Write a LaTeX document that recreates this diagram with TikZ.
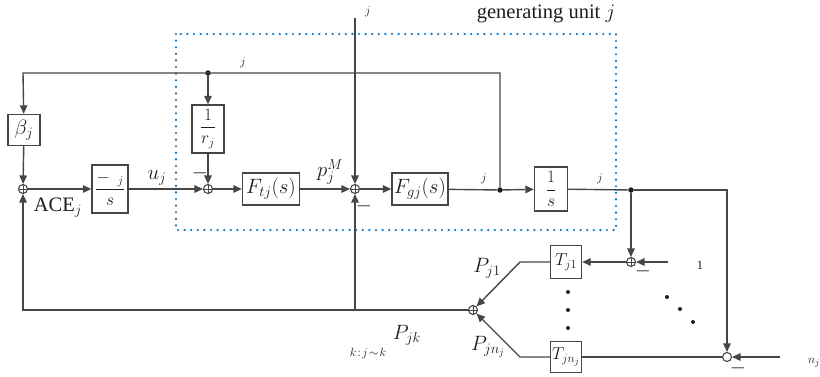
\documentclass[tikz,border=0pt]{standalone}
\usepackage{fontspec}
\setmainfont{Liberation Serif}
\usepackage{amsmath}
\usetikzlibrary{arrows.meta}
\definecolor{ln}{RGB}{70,70,70}
\definecolor{tx}{RGB}{30,28,28}
\definecolor{bl}{RGB}{0,114,198}
\tikzset{
  wire/.style={draw=ln,line width=1.4pt},
  arr/.style={wire,-{Triangle[length=8.5pt,width=7.5pt]}},
  blk/.style={draw=ln,line width=1.4pt,rectangle,inner sep=0pt,text=tx},
  fracf/.style={font=\fontsize{18.5}{20}\selectfont},
  tf/.style={font=\fontsize{18.5}{22}\selectfont},
  sumc/.style={circle,draw=ln,line width=1.1pt,minimum size=9pt,inner sep=0pt,
    path picture={\draw[ln,line width=1pt] (path picture bounding box.north) -- (path picture bounding box.south)
      (path picture bounding box.west) -- (path picture bounding box.east);}},
  sumo/.style={circle,draw=ln,line width=1.1pt,minimum size=9pt,inner sep=0pt},
  dotm/.style={circle,fill=tx,inner sep=0pt,minimum size=5.5pt},
  smalldot/.style={circle,fill=tx,inner sep=0pt,minimum size=4pt},
  lab/.style={text=tx,inner sep=0pt},
  sl/.style={lab,font=\fontsize{12.5}{14}\selectfont},
}
\begin{document}
\begin{tikzpicture}[x=1pt,y=-1pt,font=\fontsize{20.5}{24}\selectfont]
\useasboundingbox (0,0) rectangle (820,376);
% dotted region
\draw[bl,line width=2.4pt,line cap=round,dash pattern=on 0pt off 6.6pt] (176,34) rectangle (616,230);
% blocks
\node[blk,minimum width=32pt,minimum height=31pt] (beta) at (24,130) {$\beta_j$};
\node[sumc] (s1) at (23,189) {};
\node[blk,fracf,minimum width=36pt,minimum height=48pt] (kbox) at (110,189) {$\dfrac{-\;\,{}_{j}}{s}$};
\node[sumc] (s2) at (208,189) {};
\node[blk,fracf,minimum width=32pt,minimum height=48pt] (rbox) at (208,129) {$\dfrac{1}{r_j}$};
\node[blk,minimum width=57pt,minimum height=32pt] (Ftj) at (271,189) {$F_{tj}(s)$};
\node[sumc] (s3) at (355,189) {};
\node[blk,minimum width=56pt,minimum height=32pt] (Fgj) at (420,189) {$F_{gj}(s)$};
\node[dotm] (d1) at (500,190) {};
\node[blk,fracf,minimum width=33pt,minimum height=44pt] (int) at (551,189) {$\dfrac{1}{s}$};
\node[dotm] (d2) at (631,190) {};
\node[dotm] (d0) at (208,73) {};
\node[sumc] (s4) at (631,262) {};
\node[blk,tf,minimum width=31pt,minimum height=33pt] (T1) at (566,262) {$T_{j1}$};
\node[blk,tf,minimum width=31pt,minimum height=31pt] (Tn) at (566,357) {$T_{jn_j}$};
\node[sumo] (s5) at (727,357) {};
\node[sumc] (s6) at (473,310) {};
% coordinates
\coordinate (tl) at (23,73);
\coordinate (top) at (355,18);
\coordinate (cr) at (727,190);
\coordinate (in1) at (668,262);
\coordinate (inn) at (780,357);
\coordinate (b1) at (520,262);
\coordinate (bn) at (520,357);
\coordinate (blc) at (23,310);
\coordinate (bm) at (355,310);
% connectors
\draw[arr] (d1) |- (tl) -- (beta);
\draw[arr] (d0) -- (rbox);
\draw[arr] (beta) -- (s1);
\draw[arr] (s1) -- (kbox);
\draw[arr] (kbox) -- (s2);
\draw[arr] (rbox) -- (s2);
\draw[arr] (s2) -- (Ftj);
\draw[arr] (Ftj) -- (s3);
\draw[arr] (top) -- (s3);
\draw[arr] (s3) -- (Fgj);
\draw[wire] (Fgj) -- (d1);
\draw[arr] (d1) -- (int);
\draw[wire] (int) -- (d2);
\draw[arr] (d2) -- (cr) -- (s5);
\draw[arr] (d2) -- (s4);
\draw[arr] (in1) -- (s4);
\draw[arr] (s4) -- (T1);
\draw[arr] (T1) -- (b1) -- (s6);
\draw[arr] (Tn) -- (bn) -- (s6);
\draw[wire] (s5) -- (Tn);
\draw[arr] (inn) -- (s5);
\draw[arr] (s6) -- (blc) -- (s1);
\draw[arr] (bm) -- (s3);
% labels
\node[lab] (gu) at (546,14) {generating unit $j$};
\node[sl] (lj0) at (243,63) {$j$};
\node[sl] (lj1) at (368,12) {$j$};
\node[lab] (ace) at (58,208) {ACE$_j$};
\node[lab] (uj) at (157,178) {$u_j$};
\node[lab] (m1) at (200,173) {$-$};
\node[lab] (pm) at (330,172) {$p_j^M$};
\node[lab] (m2) at (364,206) {$-$};
\node[sl] (lj2) at (484,179) {$j$};
\node[sl] (lj3) at (600,179) {$j$};
\node[lab] (m3) at (643,271) {$-$};
\node[lab] (m4) at (738,368) {$-$};
\node[sl] (l1) at (700,265) {1};
\node[sl] (lnj) at (814,363) {$n_j$};
\node[lab] (pj1) at (487,268) {$P_{j1}$};
\node[lab] (pjn) at (488,347) {$P_{jn_j}$};
\node[lab] (pjk) at (407,335) {$P_{jk}$};
\node[sl] (kjk) at (368,353) {$k\!:\!j\!\sim\!k$};
\node[smalldot] (v1) at (568,292) {};
\node[smalldot] (v2) at (568,310) {};
\node[smalldot] (v3) at (568,328) {};
\node[smalldot] (g1) at (667,297) {};
\node[smalldot] (g2) at (680,309) {};
\node[smalldot] (g3) at (693,322) {};
\end{tikzpicture}
\end{document}
